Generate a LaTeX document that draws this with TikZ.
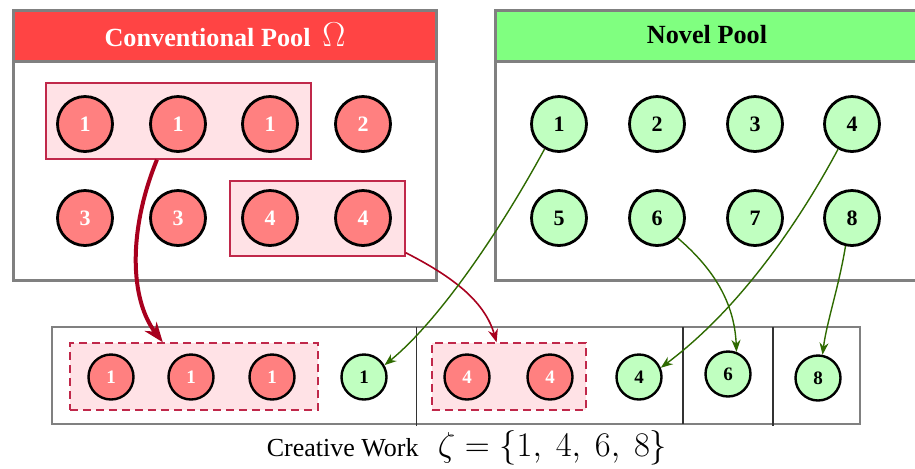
\documentclass[tikz,border=0pt]{standalone}
\usepackage[no-math]{fontspec}
\setmainfont{Liberation Serif}
\usetikzlibrary{arrows.meta,fit,calc}
\definecolor{hdred}{HTML}{FF4444}
\definecolor{hdgreen}{HTML}{80FF80}
\definecolor{redc}{HTML}{FF8080}
\definecolor{greenc}{HTML}{C0FFC0}
\definecolor{hlfill}{HTML}{FFE2E6}
\definecolor{hldraw}{HTML}{C0284A}
\definecolor{arrred}{HTML}{A8001E}
\definecolor{arrgreen}{HTML}{2E6A00}
\definecolor{poolgray}{HTML}{808080}
\tikzset{
  poolbox/.style={draw=poolgray, line width=1.5pt},
  title/.style={font=\fontsize{13.1}{14}\selectfont\bfseries, inner sep=0pt},
  hlbox/.style={draw=hldraw, fill=hlfill, line width=0.7pt, inner sep=0pt},
  hldash/.style={hlbox, dashed, dash pattern=on 4pt off 2.5pt},
  rc/.style={circle, draw=black, line width=1.4pt, fill=redc, minimum size=27.5pt, inner sep=0pt, text=white, font=\fontsize{11}{11}\selectfont\bfseries},
  gc/.style={rc, fill=greenc, text=black},
  rcs/.style={rc, minimum size=22.5pt, line width=1.2pt, font=\fontsize{9.5}{10}\selectfont\bfseries},
  gcs/.style={rcs, fill=greenc, text=black},
  outbox/.style={draw=poolgray, line width=0.6pt},
  divider/.style={draw=black!80, line width=0.8pt},
  bigarrow/.style={draw=arrred, line width=2pt, -{Stealth[length=10pt,width=7.5pt]}},
  redarrow/.style={draw=arrred, line width=0.8pt, -{Stealth[length=6.5pt,width=5pt]}},
  greenarrow/.style={draw=arrgreen, line width=0.7pt, -{Stealth[length=6pt,width=4.5pt]}},
}
\begin{document}
\begin{tikzpicture}[x=0.5pt,y=-0.5pt]
\useasboundingbox (0,0) rectangle (915,468);
\clip (0,0) rectangle (915,468);

% conventional pool
\fill[white] (13,10) rectangle (436,280);
\fill[hdred] (13,10) rectangle (436,61);
\draw[poolbox] (13,61) -- (436,61);
\draw[poolbox] (13,10) rectangle (436,280);
\node[title, text=white] (ltitle) at (225,35) {Conventional Pool\hspace{0.45em}{\fontsize{16}{16}\selectfont$\Omega$}};

% novel pool
\fill[white] (495,10) rectangle (918,280);
\fill[hdgreen] (495,10) rectangle (918,61);
\draw[poolbox] (495,61) -- (918,61);
\draw[poolbox] (495,10) rectangle (918,280);
\node[title, text=black] (rtitle) at (707,35) {Novel Pool};

% highlight boxes
\node[hlbox, fit={(46,83) (311,159)}] (h1) {};
\node[hlbox, fit={(230,181) (405,256)}] (h2) {};

% red circles
\node[rc] (r1) at (85,124) {1};
\node[rc] (r2) at (178,124) {1};
\node[rc] (r3) at (270,124) {1};
\node[rc] (r4) at (363,124) {2};
\node[rc] (r5) at (85,218) {3};
\node[rc] (r6) at (178,218) {3};
\node[rc] (r7) at (270,218) {4};
\node[rc] (r8) at (363,218) {4};

% green circles
\node[gc] (n1) at (559,124) {1};
\node[gc] (n2) at (657,124) {2};
\node[gc] (n3) at (755,124) {3};
\node[gc] (n4) at (852,124) {4};
\node[gc] (n5) at (559,218) {5};
\node[gc] (n6) at (657,218) {6};
\node[gc] (n7) at (755,218) {7};
\node[gc] (n8) at (852,218) {8};

% creative work box
\draw[outbox] (52,327) rectangle (860,424);
\draw[divider] (416.5,327) -- (416.5,426);
\draw[divider] (683,327) -- (683,424);
\draw[divider] (773,327) -- (773,426);

\node[hldash, fit={(70,343) (318,410)}] (d1) {};
\node[hldash, fit={(432,343) (586,410)}] (d2) {};

\node[rcs] (b1) at (111,377) {1};
\node[rcs] (b2) at (191,377) {1};
\node[rcs] (b3) at (272,377) {1};
\node[gcs] (b4) at (364,377) {1};
\node[rcs] (b5) at (467,377) {4};
\node[rcs] (b6) at (550,377) {4};
\node[gcs] (b7) at (639,377) {4};
\node[gcs] (b8) at (728,374) {6};
\node[gcs] (b9) at (818,378) {8};

% caption
\node[font=\fontsize{13}{14}\selectfont, inner sep=0pt, anchor=base] (cap) at (467,456) {Creative Work\hspace{0.75em}{\fontsize{16.2}{17}\selectfont$\zeta = \{1,\ 4,\ 6,\ 8\}$}};

% arrows
\draw[bigarrow] ($(h1.south west)!0.419!(h1.south east)$) .. controls +(-29,71) and +(-33,-43) .. ($(d1.north west)!0.375!(d1.north east)$);
\draw[redarrow] ($(h2.south east)+(0,-4)$) .. controls +(45,23) and +(-12,-42) .. ($(d2.north west)!0.42!(d2.north east)$);
\draw[greenarrow] (n1.240) .. controls +(-44,81) and +(55,-45) .. (b4.30);
\draw[greenarrow] (n4.241) .. controls +(-38,71) and +(80,-60) .. (b7.23);
\draw[greenarrow] (n6.316) .. controls +(35,30) and +(-2,-50) .. (b8.69);
\draw[greenarrow] (n8.257) .. controls +(-7,42) and +(4,-32) .. (b9.79);
\end{tikzpicture}
\end{document}
